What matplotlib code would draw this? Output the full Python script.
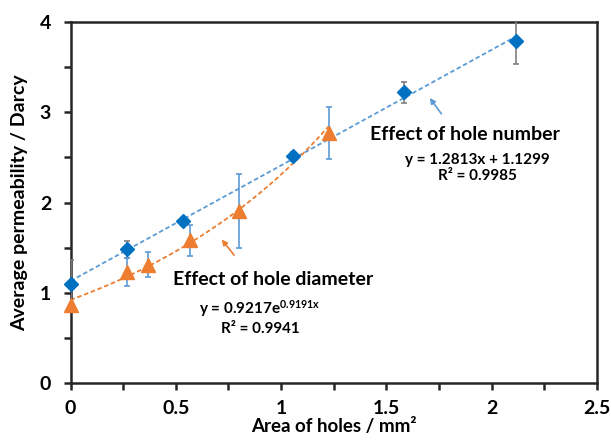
import numpy as np
import matplotlib
matplotlib.use("Agg")
import matplotlib.pyplot as plt

plt.rcParams['font.family'] = ['Lato', 'DejaVu Sans']
plt.rcParams['font.weight'] = 'bold'
plt.rcParams['mathtext.fontset'] = 'custom'
plt.rcParams['mathtext.rm'] = 'Lato:bold'
plt.rcParams['mathtext.bf'] = 'Lato:bold'
plt.rcParams['mathtext.default'] = 'bf'

# Effect of hole number (blue diamonds)
area_number = [0.0, 0.268, 0.534, 1.057, 1.584, 2.113]
perm_number = [1.10, 1.48, 1.80, 2.51, 3.22, 3.79]
err_number = [0.26, 0.09, 0.03, 0.05, 0.115, 0.25]

# Effect of hole diameter (orange triangles)
area_diam = [0.0, 0.268, 0.366, 0.569, 0.801, 1.227]
perm_diam = [0.86, 1.23, 1.31, 1.58, 1.91, 2.77]
err_diam = [0.0, 0.15, 0.14, 0.17, 0.41, 0.29]

# trendline coefficients shown on the chart
lin_a, lin_b = 1.2813, 1.1299
exp_a, exp_b = 0.9217, 0.9191

x_ticks = [0, 0.5, 1, 1.5, 2, 2.5]
y_ticks = [0, 1, 2, 3, 4]

blue = '#0070C0'
light_blue = '#5B9BD5'
orange = '#ED7D31'
grey = '#7F7F7F'
axis_col = '#262626'

fig = plt.figure(figsize=(6.11, 4.41), dpi=100)
ax = fig.add_axes([0.1154, 0.1315, 0.8617, 0.8186])

# trendlines
xl = np.linspace(min(area_number), max(area_number), 100)
ax.plot(xl, lin_a * xl + lin_b, ls=(0, (2.5, 1.5)), color=light_blue, lw=1.3, zorder=2)
xe = np.linspace(min(area_diam), max(area_diam), 100)
ax.plot(xe, exp_a * np.exp(exp_b * xe), ls=(0, (2.5, 1.5)), color=orange, lw=1.3, zorder=2)

# error bars
ax.errorbar(area_number, perm_number, yerr=err_number, fmt='none', ecolor=grey,
            elinewidth=1.2, capsize=2.5, capthick=1.2, zorder=3)
ax.errorbar(area_diam, perm_diam, yerr=err_diam, fmt='none', ecolor=light_blue,
            elinewidth=1.2, capsize=2.5, capthick=1.2, zorder=3)

# markers
ax.plot(area_number, perm_number, 'D', color=blue, ms=7.5, mec=blue, ls='none', zorder=4, clip_on=False)
ax.plot(area_diam, perm_diam, '^', color=orange, ms=10, mec=orange, ls='none', zorder=4, clip_on=False)

# annotations
ax.annotate('', xy=(1.698, 3.183), xytext=(1.769, 2.958),
            arrowprops=dict(arrowstyle='-|>', color=light_blue, lw=1.2, mutation_scale=8))
ax.annotate('', xy=(0.710, 1.614), xytext=(0.785, 1.393),
            arrowprops=dict(arrowstyle='-|>', color=orange, lw=1.2, mutation_scale=8))

ax.text(1.42, 2.75, 'Effect of hole number', fontsize=14, ha='left', va='center')
ax.text(1.93, 2.47, 'y = 1.2813x + 1.1299', fontsize=11, ha='center', va='center')
ax.text(1.93, 2.29, 'R² = 0.9985', fontsize=11, ha='center', va='center')

ax.text(0.485, 1.15, 'Effect of hole diameter', fontsize=14, ha='left', va='center')
ax.text(0.9, 0.83, 'y = 0.9217e$^{0.9191x}$', fontsize=11, ha='center', va='center')
ax.text(0.9, 0.60, 'R² = 0.9941', fontsize=11, ha='center', va='center')

ax.set_xlim(0, 2.5)
ax.set_ylim(0, 4)
ax.set_xticks(x_ticks)
ax.set_xticklabels([f'{v:g}' for v in x_ticks])
ax.set_xticks(np.arange(0, 2.51, 0.25), minor=True)
ax.set_yticks(y_ticks)
ax.set_yticks(np.arange(0, 4.01, 0.5), minor=True)

ax.tick_params(which='both', direction='out', color=axis_col, width=1.8)
ax.tick_params(which='major', length=5, labelsize=14)
ax.tick_params(which='minor', length=5)
ax.tick_params(axis='x', pad=7)
ax.tick_params(axis='y', pad=9)
for s in ax.spines.values():
    s.set_linewidth(1.8)
    s.set_color(axis_col)

ax.set_xlabel('Area of holes / mm²', fontsize=13.5, fontweight='bold', labelpad=1)
ax.set_ylabel('Average permeability / Darcy', fontsize=14, fontweight='bold', labelpad=8)

fig.savefig('out.png', dpi=100)
